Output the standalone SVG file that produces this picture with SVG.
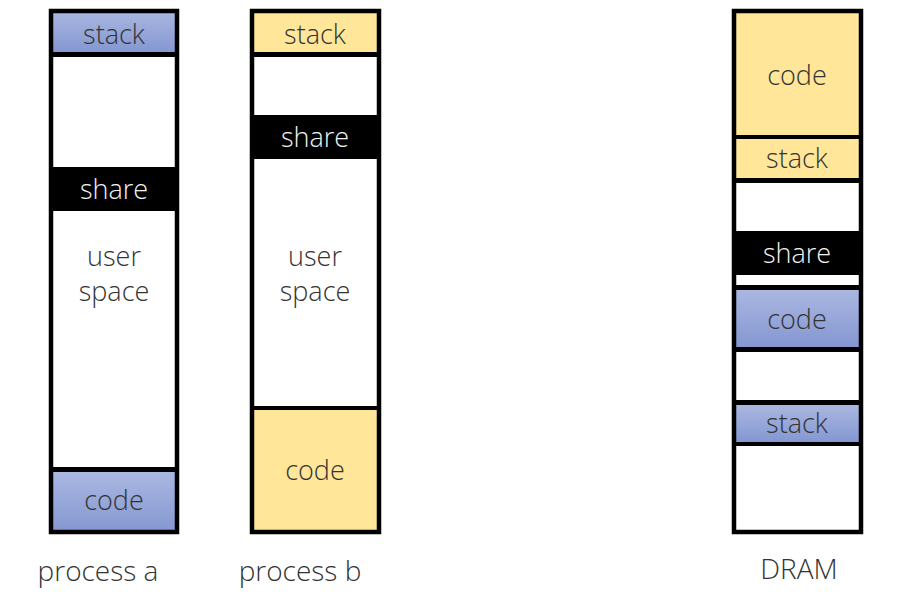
<svg xmlns="http://www.w3.org/2000/svg" width="900" height="600" viewBox="0 0 900 600">
<defs>
<linearGradient id="blue" x1="0" y1="0" x2="0" y2="1">
<stop offset="0" stop-color="#aab7e1"/>
<stop offset="1" stop-color="#8497d1"/>
</linearGradient>
<style>
.blue{fill:url(#blue)}
.yel{fill:#ffe699}
.wht{fill:#ffffff}
.blk{fill:#000000}
.frame{fill:none;stroke:#000;stroke-width:4.5}
text{font-family:"Open Sans","Noto Sans","Liberation Sans",sans-serif;font-size:27px;font-weight:300;fill:#333;text-anchor:middle;dominant-baseline:central}
text.inv{fill:#f2f2f2}
text.lbl{font-size:28px;fill:#333}
</style>
</defs>
<rect width="900" height="600" fill="#fff"/>

<g id="process-a">
<g id="a-stack"><rect class="blue" x="51" y="11" width="126" height="41"/><text x="114" y="33">stack</text></g>
<rect class="blk" x="51" y="52" width="126" height="5"/>
<g id="a-free1"><rect class="wht" x="51" y="57" width="126" height="110"/></g>
<g id="a-share"><rect class="blk" x="51" y="167" width="126" height="44"/><text class="inv" x="114" y="188">share</text></g>
<g id="a-user"><rect class="wht" x="51" y="211" width="126" height="256"/><text x="114" y="255">user</text><text x="114" y="290">space</text></g>
<rect class="blk" x="51" y="467" width="126" height="5"/>
<g id="a-code"><rect class="blue" x="51" y="472" width="126" height="60"/><text x="114" y="499">code</text></g>
<rect class="frame" x="51" y="11" width="126" height="521"/>
<text class="lbl" x="98" y="570">process a</text>
</g>

<g id="process-b">
<g id="b-stack"><rect class="yel" x="252" y="11" width="127" height="41"/><text x="315" y="33">stack</text></g>
<rect class="blk" x="252" y="52" width="127" height="5"/>
<g id="b-free1"><rect class="wht" x="252" y="57" width="127" height="58"/></g>
<g id="b-share"><rect class="blk" x="252" y="115" width="127" height="44"/><text class="inv" x="315" y="136">share</text></g>
<g id="b-user"><rect class="wht" x="252" y="159" width="127" height="247"/><text x="315" y="255">user</text><text x="315" y="290">space</text></g>
<rect class="blk" x="252" y="406" width="127" height="4"/>
<g id="b-code"><rect class="yel" x="252" y="410" width="127" height="122"/><text x="315" y="469">code</text></g>
<rect class="frame" x="252" y="11" width="127" height="521"/>
<text class="lbl" x="300" y="570">process b</text>
</g>

<g id="dram">
<g id="d-code-b"><rect class="yel" x="734" y="11" width="127" height="124"/><text x="797" y="74">code</text></g>
<rect class="blk" x="734" y="135" width="127" height="4"/>
<g id="d-stack-b"><rect class="yel" x="734" y="139" width="127" height="39"/><text x="797" y="157">stack</text></g>
<rect class="blk" x="734" y="178" width="127" height="5"/>
<g id="d-free1"><rect class="wht" x="734" y="183" width="127" height="48"/></g>
<g id="d-share"><rect class="blk" x="734" y="231" width="127" height="44"/><text class="inv" x="797" y="252">share</text></g>
<g id="d-free2"><rect class="wht" x="734" y="275" width="127" height="10"/></g>
<rect class="blk" x="734" y="285" width="127" height="5"/>
<g id="d-code-a"><rect class="blue" x="734" y="290" width="127" height="57"/><text x="797" y="318">code</text></g>
<rect class="blk" x="734" y="347" width="127" height="5"/>
<g id="d-free3"><rect class="wht" x="734" y="352" width="127" height="48"/></g>
<rect class="blk" x="734" y="400" width="127" height="5"/>
<g id="d-stack-a"><rect class="blue" x="734" y="405" width="127" height="37"/><text x="797" y="422">stack</text></g>
<rect class="blk" x="734" y="442" width="127" height="4"/>
<g id="d-free4"><rect class="wht" x="734" y="446" width="127" height="86"/></g>
<rect class="frame" x="734" y="11" width="127" height="521"/>
<text class="lbl" x="799" y="568">DRAM</text>
</g>
</svg>
